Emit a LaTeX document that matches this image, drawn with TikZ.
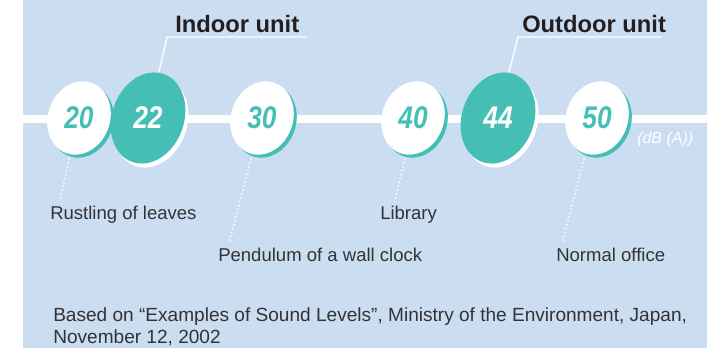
\documentclass[tikz,border=0pt]{standalone}
\usepackage{fontspec}
\usepackage{graphicx}
\setmainfont{Liberation Sans}
\usetikzlibrary{shapes.geometric,calc}
\definecolor{bgblue}{HTML}{CBDDF1}
\definecolor{coinTeal}{HTML}{45BFB6}
\definecolor{headtxt}{HTML}{231F20}
\definecolor{labtxt}{HTML}{333333}
\newcommand{\coinnum}[1]{\scalebox{0.84}[1]{#1}}
\begin{document}
\begin{tikzpicture}[x=0.75pt,y=-0.75pt,
  wcoin/.style={ellipse, fill=white, draw=none, minimum width=56pt, minimum height=46.5pt, inner sep=0pt, rotate=70},
  wshade/.style={wcoin, fill=coinTeal},
  tcoin/.style={ellipse, fill=coinTeal, draw=none, minimum width=70pt, minimum height=54pt, inner sep=0pt, rotate=70},
  tshade/.style={tcoin, fill=white},
  numw/.style={font=\fontsize{23.5}{24}\selectfont\bfseries\itshape, text=coinTeal, inner sep=0pt},
  numt/.style={numw, text=white},
  lab/.style={font=\fontsize{13.9}{16}\selectfont, text=labtxt, inner sep=0pt, anchor=base west},
  src/.style={lab, font=\fontsize{14.3}{16}\selectfont},
  head/.style={font=\fontsize{17.8}{18}\selectfont\bfseries, text=headtxt, inner sep=0pt, anchor=base west},
  dots/.style={white, line width=1.5pt, line cap=round, dash pattern=on 0pt off 3pt},
  leader/.style={white, line width=1pt}
]
\useasboundingbox (0,0) rectangle (721,348);
\fill[bgblue] (23,0) rectangle (707,348);
\draw[white, line width=6pt] (0,119) -- (707,119);

% coins
\node[wshade] (s20) at (82,121) {};
\node[wcoin] (e20) at (79,118) {};
\node[numw] (n20) at (e20.center) {\coinnum{20}};

\node[tshade] (s22) at (151,122) {};
\node[tcoin] (e22) at (148,118) {};
\node[numt] (n22) at (e22.center) {\coinnum{22}};

\node[wshade] (s30) at (265,121) {};
\node[wcoin] (e30) at (262,118) {};
\node[numw] (n30) at (e30.center) {\coinnum{30}};

\node[wshade] (s40) at (416,121) {};
\node[wcoin] (e40) at (413,118) {};
\node[numw] (n40) at (e40.center) {\coinnum{40}};

\node[tshade] (s44) at (501,122) {};
\node[tcoin] (e44) at (498,118) {};
\node[numt] (n44) at (e44.center) {\coinnum{44}};

\node[wshade] (s50) at (600,121) {};
\node[wcoin] (e50) at (597,118) {};
\node[numw] (n50) at (e50.center) {\coinnum{50}};

\node[font=\fontsize{12}{12}\selectfont\itshape, text=white, anchor=base west, inner sep=0pt] (unit) at (637,144) {(dB (A))};

% headings
\node[head] (hin) at (175,33) {Indoor unit};
\node[head] (hout) at (522,33) {Outdoor unit};
\coordinate (t22) at (159,72);
\coordinate (k22) at (167,37);
\coordinate (k22e) at (307,37);
\coordinate (t44) at (509,72);
\coordinate (k44) at (518,37);
\coordinate (k44e) at (662,37);
\draw[leader] (t22) -- (k22) -- (k22e);
\draw[leader] (t44) -- (k44) -- (k44e);

% labels
\node[lab] (l20) at (50,220) {Rustling of leaves};
\node[lab] (l30) at (218,262) {Pendulum of a wall clock};
\node[lab] (l40) at (380,220) {Library};
\node[lab] (l50) at (556,262) {Normal office};

\coordinate (d20) at (69,159);
\coordinate (d30) at (251,159);
\coordinate (d40) at (405,159);
\coordinate (d50) at (584,159);
\draw[dots] (d20) -- ($(l20.north west)+(10,-6)$);
\draw[dots] (d30) -- ($(l30.north west)+(11,-5)$);
\draw[dots] (d40) -- ($(l40.north west)+(15,-6)$);
\draw[dots] (d50) -- ($(l50.north west)+(6,-5)$);

% source
\node[src] (src1) at (53,322) {Based on “Examples of Sound Levels”, Ministry of the Environment, Japan,};
\node[src] (src2) at (53,344) {November 12, 2002};
\end{tikzpicture}
\end{document}
